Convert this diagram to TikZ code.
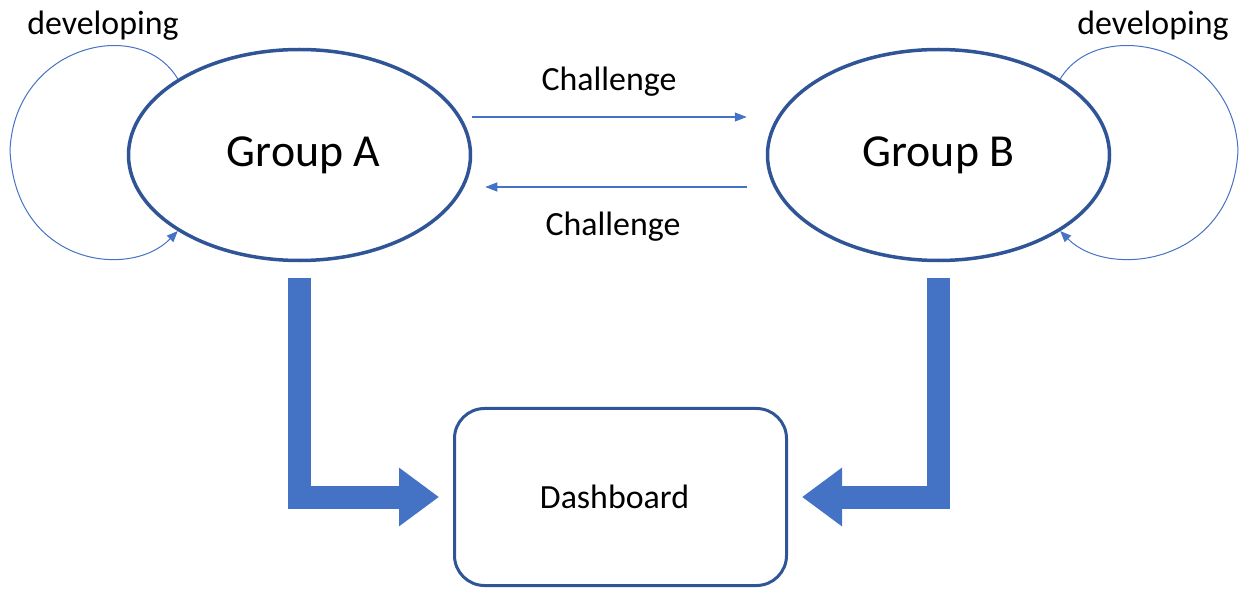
\documentclass[tikz,border=0pt]{standalone}
\usepackage{fontspec}
\setmainfont{Carlito}
\usetikzlibrary{shapes.geometric,arrows.meta}
\definecolor{darkblue}{HTML}{2F5597}
\definecolor{midblue}{HTML}{4472C4}
\begin{document}
\begin{tikzpicture}[x=1bp,y=-1bp,
		group/.style={ellipse,draw=darkblue,line width=3.5bp,minimum width=342bp,minimum height=211bp,font=\fontsize{46}{50}\selectfont},
		board/.style={draw=darkblue,line width=3bp,rounded corners=30bp,minimum width=332bp,minimum height=177bp,font=\fontsize{34}{40}\selectfont},
		thinarrow/.style={draw=midblue,line width=1.2bp,-{Triangle[length=12bp,width=9bp]}},
		devloop/.style={draw=midblue,line width=1bp,-{Triangle[length=11bp,width=9bp]}},
		fatarrow/.style={draw=midblue,line width=23bp,line join=miter,-{Triangle[length=40bp,width=56bp]}},
		small/.style={font=\fontsize{34}{40}\selectfont}]
	\useasboundingbox (0,0) rectangle (1242,590);
	\node[group] (groupA) at (299.5,155) {\hspace*{8bp}Group A};
	\node[group] (groupB) at (938.5,155) {Group B};
	\node[board] (dash) at (620.5,497) {Dashboard\hspace*{12bp}};
	\node[small] (devA) at (103,26) {developing};
	\node[small] (devB) at (1153,26) {developing};
	\draw[thinarrow,shorten >=19bp] ([yshift=38bp]groupA.east) -- ([yshift=38bp]groupB.west) node[midway,xshift=-10bp,yshift=35bp,small] (chalAB) {Challenge};
	\draw[thinarrow,shorten <=19bp,shorten >=13bp] ([yshift=-32bp]groupB.west) -- ([yshift=-32bp]groupA.east) node[midway,xshift=-6bp,yshift=-40bp,small] (chalBA) {Challenge};
	\draw[devloop] (groupA.148) .. controls (140,15) and (15,45) .. (10,150) .. controls (15,265) and (130,280) .. (groupA.212);
	\draw[devloop] (groupB.32) .. controls (1098.5,15) and (1233,45) .. (1238,150) .. controls (1233,265) and (1108.5,280) .. (groupB.-32);
	\draw[fatarrow] ([yshift=-16bp]groupA.south) |- ([xshift=-14bp]dash.west);
	\draw[fatarrow] ([yshift=-16bp]groupB.south) |- ([xshift=14bp]dash.east);
\end{tikzpicture}
\end{document}
